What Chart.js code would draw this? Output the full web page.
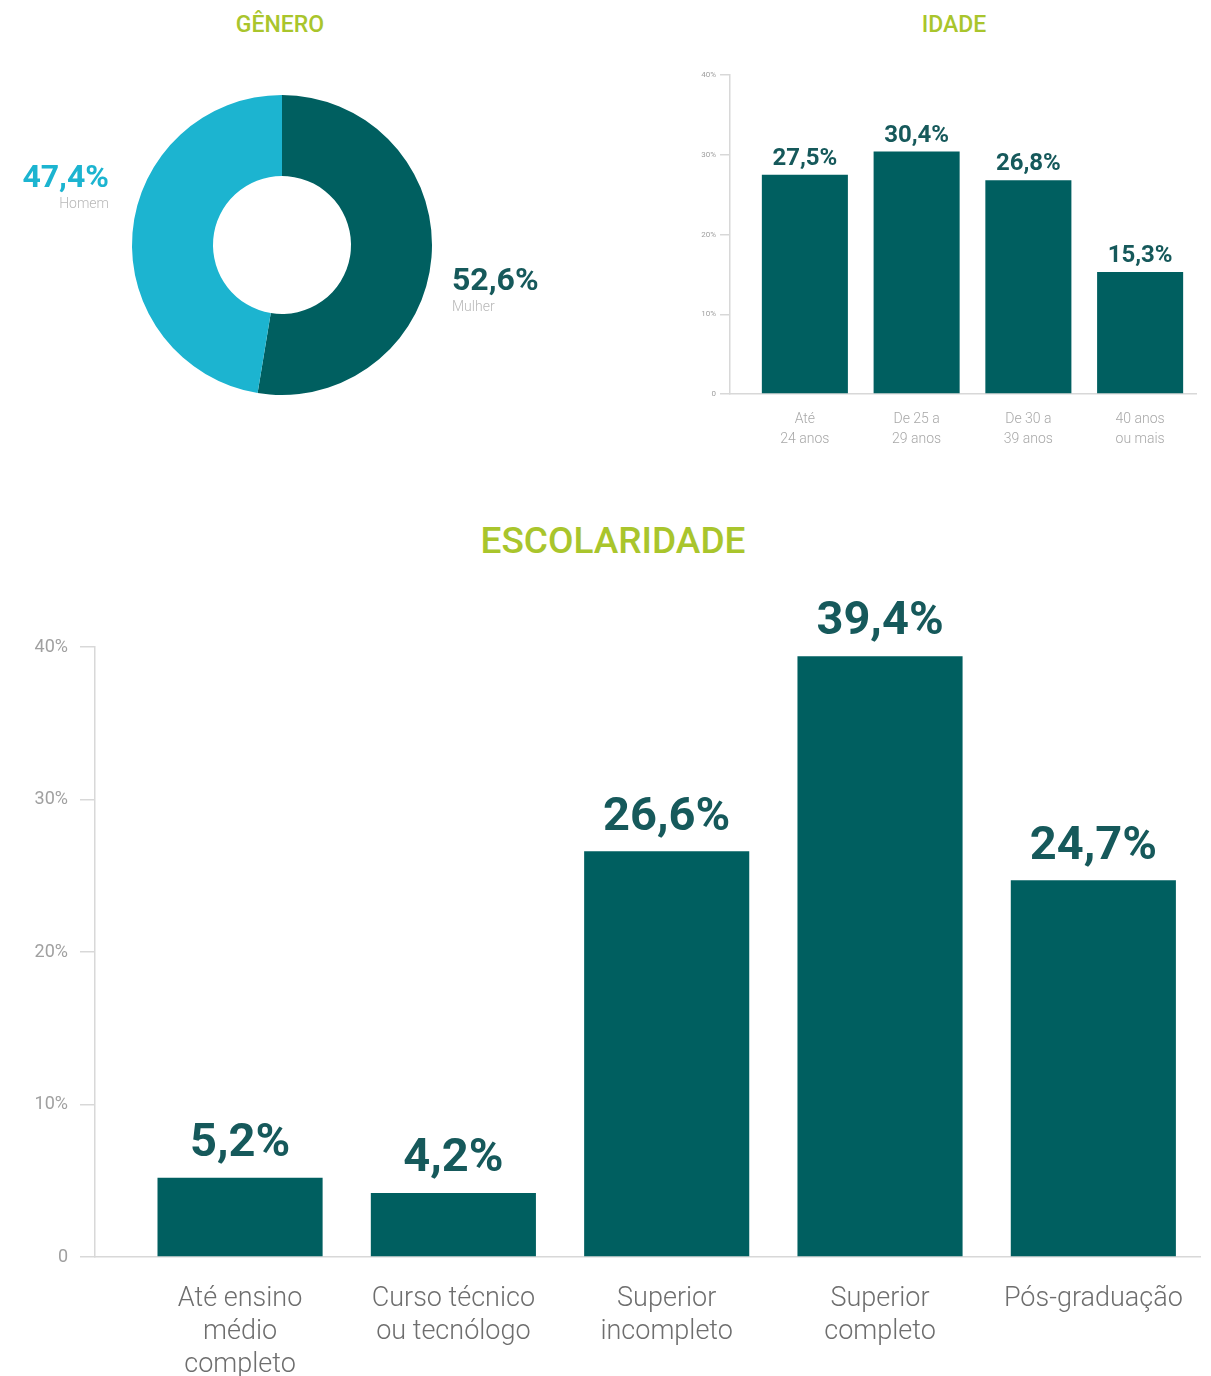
<!DOCTYPE html>
<html>
<head>
<meta charset="utf-8">
<script src="https://cdn.jsdelivr.net/npm/chart.js@4.4.1/dist/chart.umd.min.js"></script>
<style>
  body { margin: 0; background: #fff; width: 1211px; height: 1376px; position: relative; overflow: hidden; font-family: Roboto, sans-serif; }
  .titulo { position: absolute; color: #a9c52c; font-weight: 500; text-align: center; white-space: nowrap; }
  .box { position: absolute; }
</style>
</head>
<body>
<div class="titulo" style="left:180px; width:200px; top:11px; font-size:23px;">GÊNERO</div>
<div class="titulo" style="left:854px; width:200px; top:11px; font-size:23px;">IDADE</div>
<div class="titulo" style="left:413px; width:400px; top:519px; font-size:37px;">ESCOLARIDADE</div>

<div class="box" style="left:0; top:75px; width:564px; height:340px;"><canvas id="cnvGenero"></canvas></div>
<div class="box" style="left:680px; top:60px; width:531px; height:390px;"><canvas id="cnvIdade"></canvas></div>
<div class="box" style="left:0; top:580px; width:1211px; height:796px;"><canvas id="cnvEscol"></canvas></div>

<script>
var generoLabels = ['Mulher', 'Homem'];
var generoValues = [52.6, 47.4];

var idadeLabels = [['Até', '24 anos'], ['De 25 a', '29 anos'], ['De 30 a', '39 anos'], ['40 anos', 'ou mais']];
var idadeValues = [27.5, 30.4, 26.8, 15.3];

var escolLabels = [['Até ensino', 'médio', 'completo'], ['Curso técnico', 'ou tecnólogo'], ['Superior', 'incompleto'], ['Superior', 'completo'], ['Pós-graduação']];
var escolValues = [5.2, 4.2, 26.6, 39.4, 24.7];

var yTicks = [0, 10, 20, 30, 40];

var corEscura = '#005f60';
var corClara = '#1cb4d0';
var corRotulo = '#16595b';

function pct(v) { return v.toFixed(1).replace('.', ',') + '%'; }

// writes each bar's value above it
var valorNaBarra = {
  id: 'valorNaBarra',
  afterDatasetsDraw: function(chart, args, opts) {
    var ctx = chart.ctx;
    var meta = chart.getDatasetMeta(0);
    ctx.save();
    ctx.fillStyle = corRotulo;
    ctx.font = 'bold ' + opts.size + 'px Roboto';
    ctx.textAlign = 'center';
    ctx.textBaseline = 'bottom';
    meta.data.forEach(function(bar, i) {
      ctx.fillText(pct(chart.data.datasets[0].data[i].y), bar.x, bar.y - opts.gap);
    });
    ctx.restore();
  }
};

// percent + name beside the donut
var rotuloRosca = {
  id: 'rotuloRosca',
  afterDatasetsDraw: function(chart) {
    var ctx = chart.ctx;
    var arc = chart.getDatasetMeta(0).data[0];
    var cx = arc.x, cy = arc.y, r = arc.outerRadius;
    var vals = chart.data.datasets[0].data;
    ctx.save();
    ctx.textBaseline = 'middle';
    // Homem, left side
    ctx.textAlign = 'right';
    ctx.fillStyle = corClara;
    ctx.font = 'bold 32px Roboto';
    ctx.fillText(pct(vals[1]), cx - r - 23, cy - 66);
    ctx.fillStyle = '#b8b8b8';
    ctx.font = '300 14px Roboto';
    ctx.fillText(chart.data.labels[1], cx - r - 23, cy - 41);
    // Mulher, right side
    ctx.textAlign = 'left';
    ctx.fillStyle = corRotulo;
    ctx.font = 'bold 32px Roboto';
    ctx.fillText(pct(vals[0]), cx + r + 20, cy + 37);
    ctx.fillStyle = '#b8b8b8';
    ctx.font = '300 14px Roboto';
    ctx.fillText(chart.data.labels[0], cx + r + 20, cy + 62);
    ctx.restore();
  }
};

new Chart(document.getElementById('cnvGenero'), {
  type: 'doughnut',
  data: {
    labels: generoLabels,
    datasets: [{ data: generoValues, backgroundColor: [corEscura, corClara], borderWidth: 0 }]
  },
  options: {
    responsive: true,
    maintainAspectRatio: false,
    animation: false,
    cutout: '46%',
    layout: { padding: 20 },
    plugins: { legend: { display: false }, tooltip: { enabled: false } }
  },
  plugins: [rotuloRosca]
});

function barOptions(cfg) {
  return {
    responsive: true,
    maintainAspectRatio: false,
    animation: false,
    layout: { padding: cfg.padding },
    plugins: { legend: { display: false }, tooltip: { enabled: false }, valorNaBarra: cfg.rotulo },
    scales: {
      x: {
        type: 'linear',
        offset: false,
        min: cfg.xMin,
        max: cfg.labels.length - 0.5,
        grid: { display: false, drawTicks: false },
        border: { display: true, color: '#d8d8d8', width: 1.5 },
        afterBuildTicks: function(scale) {
          scale.ticks = cfg.labels.map(function(l, i) { return { value: i }; });
        },
        afterFit: function(scale) { scale.height = cfg.xHeight; },
        ticks: {
          autoSkip: false,
          maxRotation: 0,
          padding: cfg.xPad,
          color: cfg.xColor,
          font: { family: 'Roboto', size: cfg.xSize, weight: 300, lineHeight: cfg.xLine },
          callback: function(v) { return cfg.labels[v]; }
        }
      },
      y: {
        min: 0,
        max: 40,
        afterBuildTicks: function(scale) {
          scale.ticks = yTicks.map(function(v) { return { value: v }; });
        },
        afterFit: function(scale) { scale.width = cfg.yWidth; },
        grid: { drawOnChartArea: false, drawTicks: true, tickLength: cfg.tickLen, color: '#d8d8d8', lineWidth: 1.5 },
        border: { display: true, color: '#d8d8d8', width: 1.5 },
        ticks: {
          padding: cfg.yPad,
          color: '#a0a0a0',
          font: { family: 'Roboto', size: cfg.ySize },
          callback: function(v) { return v === 0 ? '0' : v + '%'; }
        }
      }
    }
  };
}

new Chart(document.getElementById('cnvIdade'), {
  type: 'bar',
  data: {
    datasets: [{
      data: idadeValues.map(function(v, i) { return { x: i, y: v }; }),
      backgroundColor: corEscura,
      categoryPercentage: 1,
      barPercentage: 0.77
    }]
  },
  options: barOptions({
    labels: idadeLabels, xMin: -0.67, xHeight: 56, xPad: 16, xColor: '#a8a8a8', xSize: 14, xLine: 1.4,
    yWidth: 50, tickLen: 10, yPad: 4, ySize: 8,
    padding: { top: 15, right: 15, left: 0, bottom: 0 },
    rotulo: { size: 24, gap: 4 }
  }),
  plugins: [valorNaBarra]
});

new Chart(document.getElementById('cnvEscol'), {
  type: 'bar',
  data: {
    datasets: [{
      data: escolValues.map(function(v, i) { return { x: i, y: v }; }),
      backgroundColor: corEscura,
      categoryPercentage: 1,
      barPercentage: 0.774
    }]
  },
  options: barOptions({
    labels: escolLabels, xMin: -0.68, xHeight: 119, xPad: 26, xColor: '#6e6e6e', xSize: 27, xLine: 1.22,
    yWidth: 95, tickLen: 15, yPad: 12, ySize: 18,
    padding: { top: 67, right: 11, left: 0, bottom: 0 },
    rotulo: { size: 47, gap: 10 }
  }),
  plugins: [valorNaBarra]
});
</script>
</body>
</html>
